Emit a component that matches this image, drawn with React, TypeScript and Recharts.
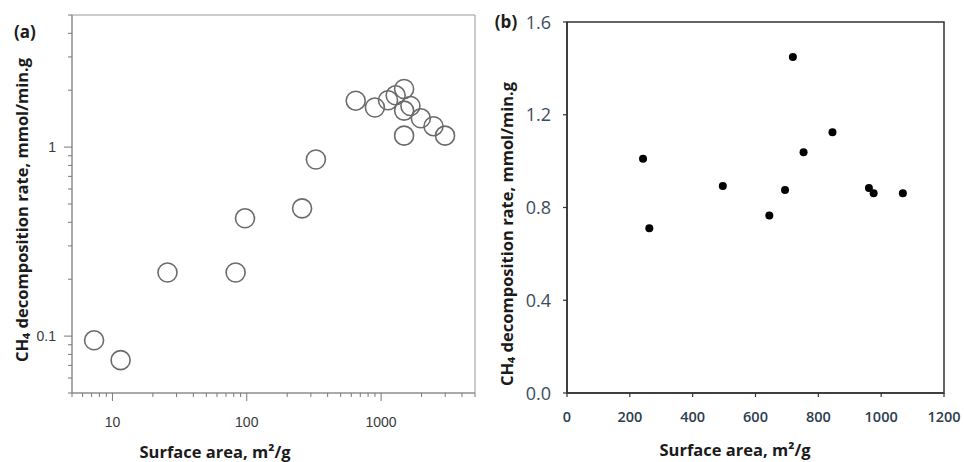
import React from "react";
import {
  ScatterChart,
  Scatter,
  XAxis,
  YAxis,
  ReferenceArea,
} from "recharts";

// (a) log-log panel
const leftSurface = [7.3, 11.5, 25.7, 82.6, 97, 258, 327, 647, 899, 1126, 1283, 1483, 1653, 1483, 1977, 2455, 2992, 1483];
const leftRate = [0.095, 0.0746, 0.217, 0.217, 0.42, 0.474, 0.86, 1.76, 1.62, 1.77, 1.88, 2.03, 1.65, 1.56, 1.42, 1.29, 1.15, 1.15];
const leftXTicks = [5, 6, 7, 8, 9, 10, 20, 30, 40, 50, 60, 70, 80, 90, 100, 200, 300, 400, 500, 600, 700, 800, 900, 1000, 2000, 3000, 4000, 5000];
const leftXMajor = [10, 100, 1000];
const leftYTicks = [0.05, 0.06, 0.07, 0.08, 0.09, 0.1, 0.2, 0.3, 0.4, 0.5, 0.6, 0.7, 0.8, 0.9, 1, 2, 3, 4, 5];
const leftYMajor = [0.1, 1];

// (b) linear panel
const rightSurface = [242, 262, 496, 644, 694, 719, 753, 845, 961, 976, 1069];
const rightRate = [1.01, 0.71, 0.893, 0.766, 0.875, 1.449, 1.038, 1.124, 0.884, 0.861, 0.861];
const rightXTicks = [0, 200, 400, 600, 800, 1000, 1200];
const rightYTicks = [0, 0.4, 0.8, 1.2, 1.6];

const yTitle = "CH\u2084 decomposition rate, mmol/min.g";
const xTitle = "Surface area, m\u00b2/g";

const leftData = leftSurface.map((s, i) => ({ s, r: leftRate[i] }));
const rightData = rightSurface.map((s, i) => ({ s, r: rightRate[i] }));

const titleStyle = {
  fontFamily: "'Open Sans', sans-serif",
  fontWeight: 700,
  fontSize: 16.5,
  fill: "#1b1b1b",
};

const LeftXTick = (props: any) => {
  const { x, y, payload } = props;
  const major = leftXMajor.includes(payload.value);
  return (
    <g>
      <line x1={x} x2={x} y1={y} y2={y + (major ? 8 : 4)} stroke="#777" strokeWidth={1} />
      {major && (
        <text x={x} y={y + 34} textAnchor="middle" fontFamily="'Liberation Sans', Arial, sans-serif" fontSize={14} fill="#3a3a3a">
          {payload.value}
        </text>
      )}
    </g>
  );
};

const LeftYTick = (props: any) => {
  const { x, y, payload } = props;
  const major = leftYMajor.includes(payload.value);
  return (
    <g>
      <line x1={x} x2={x - (major ? 8 : 4)} y1={y} y2={y} stroke="#777" strokeWidth={1} />
      {major && (
        <text x={x - 16} y={y + 5} textAnchor="end" fontFamily="'Liberation Sans', Arial, sans-serif" fontSize={14} fill="#3a3a3a">
          {payload.value}
        </text>
      )}
    </g>
  );
};

const RightXTick = (props: any) => {
  const { x, y, payload } = props;
  return (
    <g>
      <line x1={x} x2={x} y1={y} y2={y + 4} stroke="#333" strokeWidth={1.2} />
      <text x={x} y={y + 29} textAnchor="middle" fontFamily="'Open Sans', sans-serif" fontWeight={600} fontSize={14.5} fill="#2d3d4e">
        {payload.value}
      </text>
    </g>
  );
};

const RightYTick = (props: any) => {
  const { x, y, payload } = props;
  return (
    <g>
      <line x1={x} x2={x - 4} y1={y} y2={y} stroke="#333" strokeWidth={1.2} />
      <text x={x - 16} y={y + 6.5} textAnchor="end" fontFamily="'Open Sans', sans-serif" fontSize={18} fill="#3d4b5c">
        {payload.value.toFixed(1)}
      </text>
    </g>
  );
};

const OpenCircle = (props: any) => (
  <circle cx={props.cx} cy={props.cy} r={9.5} fill="none" stroke="#6b6b6b" strokeWidth={1.6} />
);

const FilledDot = (props: any) => (
  <circle cx={props.cx} cy={props.cy} r={4} fill="#000" />
);

export default function App() {
  return (
    <div style={{ position: "absolute", left: 0, top: 0, width: 964, height: 462, background: "#fff" }}>
      <div style={{ position: "absolute", left: 0, top: 0 }}>
        <ScatterChart width={480} height={462} margin={{ top: 15, right: 5, bottom: 29, left: 0 }}>
          <XAxis
            dataKey="s"
            type="number"
            scale="log"
            domain={[5, 5000]}
            ticks={leftXTicks}
            interval={0}
            tickSize={0}
            tickMargin={0}
            height={40}
            stroke="#888"
            tick={<LeftXTick />}
            label={{
              content: () => (
                <text x={215} y={458} textAnchor="middle" style={titleStyle}>
                  {xTitle}
                </text>
              ),
            }}
          />
          <YAxis
            dataKey="r"
            type="number"
            scale="log"
            domain={[0.05, 5]}
            ticks={leftYTicks}
            interval={0}
            tickSize={0}
            tickMargin={0}
            width={72}
            stroke="#888"
            tick={<LeftYTick />}
            label={{
              content: () => (
                <g>
                  <text x={28} y={210} textAnchor="middle" transform="rotate(-90 28 210)" style={titleStyle}>
                    {yTitle}
                  </text>
                  <text x={25} y={38} textAnchor="middle" style={{ ...titleStyle, fontSize: 17 }}>
                    (a)
                  </text>
                </g>
              ),
            }}
          />
          <ReferenceArea x1={5} x2={5000} y1={0.05} y2={5} fill="none" stroke="#999" strokeWidth={1} />
          <Scatter data={leftData} shape={<OpenCircle />} isAnimationActive={false} />
        </ScatterChart>
      </div>
      <div style={{ position: "absolute", left: 480, top: 0 }}>
        <ScatterChart width={484} height={462} margin={{ top: 22, right: 20, bottom: 29, left: 0 }}>
          <XAxis
            dataKey="s"
            type="number"
            domain={[0, 1200]}
            ticks={rightXTicks}
            interval={0}
            tickSize={0}
            tickMargin={0}
            height={40}
            stroke="#333"
            strokeWidth={1.5}
            tick={<RightXTick />}
            label={{
              content: () => (
                <text x={255} y={456} textAnchor="middle" style={titleStyle}>
                  {xTitle}
                </text>
              ),
            }}
          />
          <YAxis
            dataKey="r"
            type="number"
            domain={[0, 1.6]}
            ticks={rightYTicks}
            interval={0}
            tickSize={0}
            tickMargin={0}
            width={87}
            stroke="#333"
            strokeWidth={1.5}
            tick={<RightYTick />}
            label={{
              content: () => (
                <g>
                  <text x={33} y={234} textAnchor="middle" transform="rotate(-90 33 234)" style={titleStyle}>
                    {yTitle}
                  </text>
                  <text x={26} y={28} textAnchor="middle" style={{ ...titleStyle, fontSize: 17 }}>
                    (b)
                  </text>
                </g>
              ),
            }}
          />
          <ReferenceArea x1={0} x2={1200} y1={0} y2={1.6} fill="none" stroke="#333" strokeWidth={1.5} />
          <Scatter data={rightData} shape={<FilledDot />} isAnimationActive={false} />
        </ScatterChart>
      </div>
    </div>
  );
}
